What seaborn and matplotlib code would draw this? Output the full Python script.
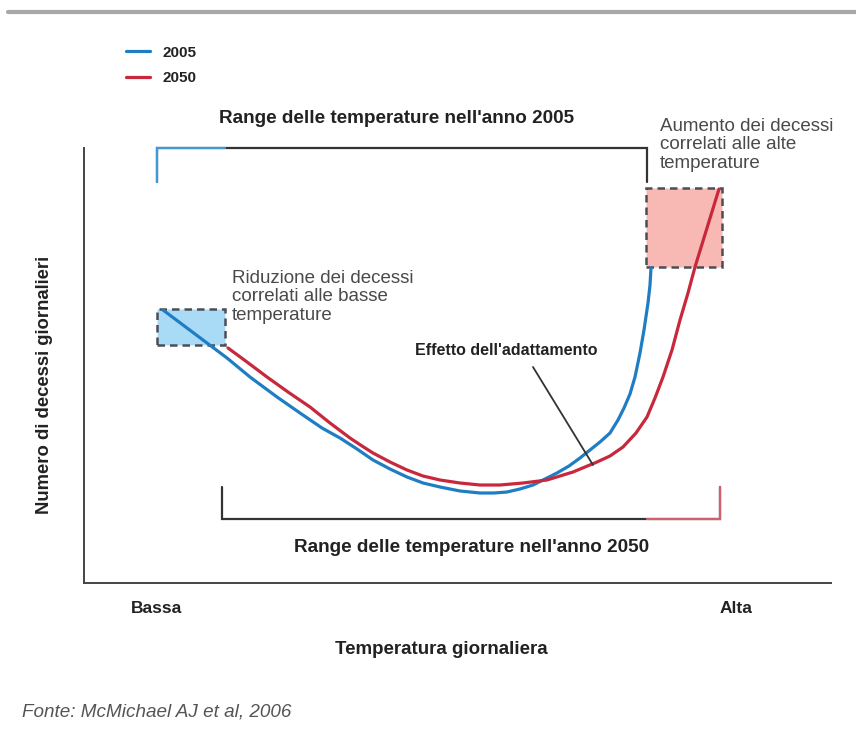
import pandas as pd
import matplotlib.pyplot as plt
import matplotlib.patches as mpatches
import seaborn as sns

# Curve concettuali (unità arbitrarie)
temp_2005 = [79, 99, 119, 143, 166, 193, 216, 238, 256, 273, 289, 306, 323, 339, 356,
             376, 396, 410, 423, 436, 449, 461, 473, 485, 496, 506, 516, 526, 534, 540,
             546, 551, 556, 560, 564, 566, 567]
dec_2005 = [273, 258, 243, 225, 206, 186, 170, 155, 145, 134, 123, 114, 106, 100, 96,
            92, 90, 90, 91, 94, 98, 104, 110, 117, 125, 133, 141, 150, 163, 175,
            189, 206, 230, 253, 280, 298, 315]
temp_2050 = [144, 163, 183, 204, 226, 246, 266, 278, 289, 306, 323, 339, 356, 376, 396,
             416, 439, 463, 476, 489, 501, 513, 526, 539, 552, 563, 571, 579, 588, 596,
             604, 611, 623, 635]
dec_2050 = [235, 221, 206, 191, 176, 160, 145, 137, 130, 121, 113, 107, 103, 100, 98,
            98, 100, 103, 107, 111, 116, 121, 127, 136, 150, 166, 185, 206, 233, 263,
            290, 316, 355, 394]

# range di temperatura (estremi) e riquadri
range_2005 = [73, 563]
range_2050 = [138, 636]
box_basse = [73, 141, 238, 274]   # x0, x1, y0, y1
box_alte = [562, 638, 316, 395]
x_ticks = [72, 652]
x_tick_labels = ['Bassa', 'Alta']

BLUE = '#1f7dc4'
RED = '#c8283c'
DARK = '#333333'

df = pd.concat([
    pd.DataFrame({'temp': temp_2005, 'decessi': dec_2005, 'anno': '2005'}),
    pd.DataFrame({'temp': temp_2050, 'decessi': dec_2050, 'anno': '2050'}),
], ignore_index=True)

sns.set_theme(style="white")
plt.rcParams['font.family'] = ['Liberation Sans', 'DejaVu Sans']

fig = plt.figure(figsize=(8.56, 7.33), dpi=100)
ax = fig.add_axes([84 / 856, 150 / 733, 747 / 856, 435 / 733])

# riquadri tratteggiati
ax.add_patch(mpatches.Rectangle((box_basse[0], box_basse[2]), box_basse[1] - box_basse[0],
                                box_basse[3] - box_basse[2], facecolor='#a9dbf6',
                                edgecolor='#4a4f55', linestyle=(0, (3, 2)), lw=1.8, zorder=1))
ax.add_patch(mpatches.Rectangle((box_alte[0], box_alte[2]), box_alte[1] - box_alte[0],
                                box_alte[3] - box_alte[2], facecolor='#f8b9b5',
                                edgecolor='#4a4f55', linestyle=(0, (3, 2)), lw=1.8, zorder=1))

sns.lineplot(data=df, x='temp', y='decessi', hue='anno', sort=False, estimator=None,
             palette={'2005': BLUE, '2050': RED}, hue_order=['2005', '2050'],
             lw=2.3, ax=ax, zorder=3)
for ln in ax.get_lines():
    ln.set_solid_joinstyle('round')
    ln.set_solid_capstyle('round')

ax.set_xlim(0, 747)
ax.set_ylim(0, 435)

# parentesi range 2005 (in alto)
ax.plot([range_2005[0], range_2005[0], range_2005[1], range_2005[1]], [401, 435, 435, 401],
        color=DARK, lw=1.6, clip_on=False, solid_joinstyle='miter')
ax.plot([range_2005[0], range_2005[0], box_basse[1]], [401, 435, 435],
        color='#3d9ad8', lw=1.6, clip_on=False, solid_joinstyle='miter')

# parentesi range 2050 (in basso)
ax.plot([range_2050[0], range_2050[0], range_2050[1], range_2050[1]], [96, 64, 64, 96],
        color=DARK, lw=1.6, solid_joinstyle='miter')
ax.plot([range_2005[1], range_2050[1], range_2050[1]], [64, 64, 96],
        color='#d0606e', lw=1.6, solid_joinstyle='miter')

# linea dell'effetto adattamento
ax.plot([449, 509], [216, 118], color=DARK, lw=1.3, zorder=4)

txt = dict(color='#4a4a4a', fontsize=13.5, linespacing=1.1, va='top', ha='left')
ax.text(148, 313, 'Riduzione dei decessi\ncorrelati alle basse\ntemperature', **txt)
ax.text(576, 465, 'Aumento dei decessi\ncorrelati alle alte\ntemperature', clip_on=False, **txt)
ax.text(331, 233, "Effetto dell'adattamento", fontsize=11.5, fontweight='bold',
        color='#222222', va='center', ha='left')
ax.text(313, 465, "Range delle temperature nell'anno 2005", fontsize=13.6,
        fontweight='bold', color='#222222', ha='center', va='center', clip_on=False)
ax.text(388, 36, "Range delle temperature nell'anno 2050", fontsize=13.6,
        fontweight='bold', color='#222222', ha='center', va='center')

ax.set_xticks(x_ticks)
ax.set_xticklabels(x_tick_labels, fontsize=12.5, fontweight='bold', color='#222222')
ax.tick_params(axis='x', length=0, pad=13)
ax.set_yticks([])
ax.set_xlabel('Temperatura giornaliera', fontsize=13.5, fontweight='bold', color='#222222')
ax.xaxis.set_label_coords(0.478, -0.133)
ax.set_ylabel('Numero di decessi giornalieri', fontsize=13.3, fontweight='bold', color='#222222')
ax.yaxis.set_label_coords(-0.041, 0.455)

sns.despine(ax=ax)
for s in ['left', 'bottom']:
    ax.spines[s].set_color('#444444')
    ax.spines[s].set_linewidth(1.4)

leg = ax.legend(loc='upper left', bbox_to_anchor=(112 / 856, 1 - 32 / 733),
                bbox_transform=fig.transFigure, frameon=False, handlelength=1.6,
                labelspacing=0.75, prop={'weight': 'bold', 'size': 11})
for t in leg.get_texts():
    t.set_color('#222222')

# riga grigia in alto e fonte
fig.add_artist(plt.Line2D([8 / 856, 1], [1 - 12 / 733] * 2, color='#a8a8a8', lw=3,
                          transform=fig.transFigure))
fig.text(22 / 856, 1 - 712 / 733, 'Fonte: McMichael AJ et al, 2006', fontsize=13.6,
         style='italic', color='#555555', va='center')

plt.savefig('out.png', dpi=100)
plt.close()
